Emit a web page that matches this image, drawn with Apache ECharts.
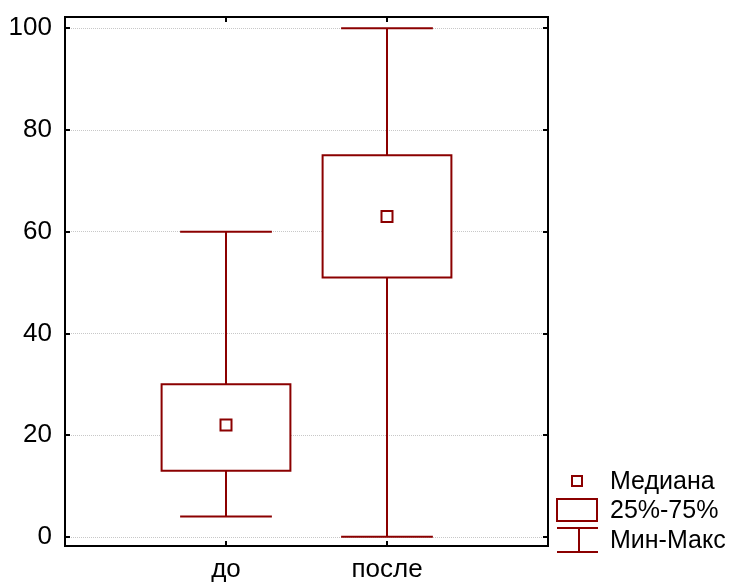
<!DOCTYPE html>
<html>
<head>
<meta charset="utf-8">
<script src="https://cdn.jsdelivr.net/npm/echarts@6/dist/echarts.min.js"></script>
<style>html,body{margin:0;padding:0;background:#fff}#c{width:731px;height:585px}</style>
</head>
<body>
<div id="c"></div>
<script>
const categories = ['до', 'после'];
const mins = [4, 0];
const q1s = [13, 51];
const medians = [22, 63];
const q3s = [30, 75];
const maxs = [60, 100];
const legendLabels = ['Медиана', '25%-75%', 'Мин-Макс'];

const RED = '#8b0000';
const FONT = 'Liberation Sans, Arial, sans-serif';
const data = categories.map((c, i) => [i + 1, mins[i], q1s[i], medians[i], q3s[i], maxs[i]]);

const chart = echarts.init(document.getElementById('c'), null, {renderer: 'canvas'});

function renderItem(params, api) {
  const x = api.value(0);
  const pMin = api.coord([x, api.value(1)]);
  const pQ1 = api.coord([x, api.value(2)]);
  const pMed = api.coord([x, api.value(3)]);
  const pQ3 = api.coord([x, api.value(4)]);
  const pMax = api.coord([x, api.value(5)]);
  const boxW = api.size([0.8, 0])[0];
  const capW = api.size([0.57, 0])[0];
  const st = {stroke: RED, lineWidth: 2, fill: null};
  return {
    type: 'group',
    children: [
      {type: 'line', shape: {x1: pMax[0], y1: pMax[1], x2: pQ3[0], y2: pQ3[1]}, style: st},
      {type: 'line', shape: {x1: pQ1[0], y1: pQ1[1], x2: pMin[0], y2: pMin[1]}, style: st},
      {type: 'line', shape: {x1: pMax[0] - capW / 2, y1: pMax[1], x2: pMax[0] + capW / 2, y2: pMax[1]}, style: st},
      {type: 'line', shape: {x1: pMin[0] - capW / 2, y1: pMin[1], x2: pMin[0] + capW / 2, y2: pMin[1]}, style: st},
      {type: 'rect', shape: {x: pQ3[0] - boxW / 2, y: pQ3[1], width: boxW, height: pQ1[1] - pQ3[1]}, style: {stroke: RED, lineWidth: 2, fill: '#fff'}},
      {type: 'rect', shape: {x: pMed[0] - 5.5, y: pMed[1] - 5.5, width: 11, height: 11}, style: {stroke: RED, lineWidth: 2, fill: '#fff'}}
    ]
  };
}

const axisFont = {color: '#000', fontSize: 26, fontFamily: FONT};
const frameAxis = {show: true, onZero: false, lineStyle: {color: '#000', width: 2}};
const tick = {show: true, inside: true, length: 5, lineStyle: {color: '#000', width: 2}};
const option = {
  animation: false,
  backgroundColor: '#fff',
  grid: {left: 65, right: 183, top: 17, bottom: 39, show: true, borderColor: '#000', borderWidth: 2, backgroundColor: 'transparent'},
  xAxis: [
    {type: 'value', min: 0, max: 3, interval: 1, position: 'bottom',
     axisLine: frameAxis, axisTick: tick,
     splitLine: {show: false},
     axisLabel: Object.assign({margin: 11, formatter: v => categories[v - 1] || ''}, axisFont)},
    {type: 'value', min: 0, max: 3, interval: 1, position: 'top',
     axisLine: frameAxis, axisTick: tick,
     splitLine: {show: false}, axisLabel: {show: false}}
  ],
  yAxis: [
    {type: 'value', min: -1.8, max: 102.2, splitNumber: 5, position: 'left',
     axisLine: frameAxis, axisTick: tick,
     splitLine: {show: true, lineStyle: {color: '#c8c8c8', type: 'dotted', width: 1}},
     axisLabel: Object.assign({margin: 13, padding: [4, 0, 0, 0], showMinLabel: false, showMaxLabel: false}, axisFont)},
    {type: 'value', min: -1.8, max: 102.2, splitNumber: 5, position: 'right',
     axisLine: frameAxis, axisTick: tick,
     splitLine: {show: false}, axisLabel: {show: false}}
  ],
  series: [{
    type: 'custom', renderItem: renderItem, data: data, xAxisIndex: 0, yAxisIndex: 0,
    encode: {x: 0, y: [1, 2, 3, 4, 5]}, clip: false
  }],
  graphic: [
    {type: 'rect', shape: {x: 572, y: 476, width: 10, height: 10}, style: {stroke: RED, lineWidth: 2, fill: '#fff'}},
    {type: 'rect', shape: {x: 557, y: 499, width: 40, height: 22}, style: {stroke: RED, lineWidth: 2, fill: '#fff'}},
    {type: 'line', shape: {x1: 557, y1: 528, x2: 598, y2: 528}, style: {stroke: RED, lineWidth: 2}},
    {type: 'line', shape: {x1: 557, y1: 552, x2: 598, y2: 552}, style: {stroke: RED, lineWidth: 2}},
    {type: 'line', shape: {x1: 579, y1: 528, x2: 579, y2: 552}, style: {stroke: RED, lineWidth: 2}},
    {type: 'text', x: 610, y: 482, style: {text: legendLabels[0], fill: '#000', font: '25px ' + FONT, textVerticalAlign: 'middle', verticalAlign: 'middle'}},
    {type: 'text', x: 610, y: 511, style: {text: legendLabels[1], fill: '#000', font: '25px ' + FONT, textVerticalAlign: 'middle', verticalAlign: 'middle'}},
    {type: 'text', x: 610, y: 541, style: {text: legendLabels[2], fill: '#000', font: '25px ' + FONT, textVerticalAlign: 'middle', verticalAlign: 'middle'}}
  ]
};
chart.setOption(option);
</script>
</body>
</html>
